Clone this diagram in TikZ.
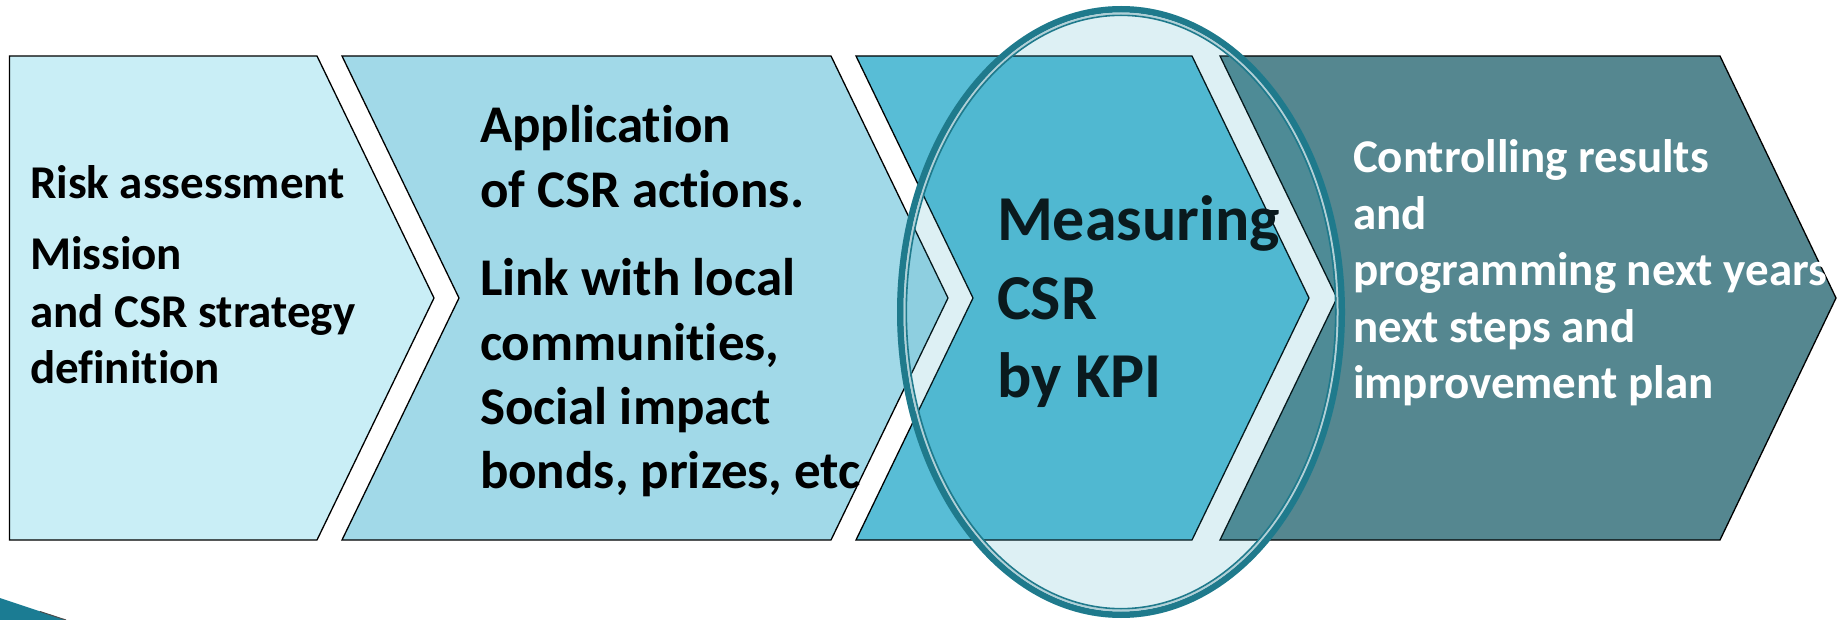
\documentclass[tikz,border=0pt]{standalone}
\usepackage{fontspec}
\setmainfont{Carlito}[Ligatures=NoCommon]
\definecolor{boxA}{HTML}{C9EEF6}
\definecolor{boxB}{HTML}{A1D9E8}
\definecolor{boxC}{HTML}{58BDD6}
\definecolor{boxD}{HTML}{558790}
\definecolor{ringc}{HTML}{1F7A8C}
\definecolor{veil}{HTML}{2BA1BA}
\definecolor{darktxt}{HTML}{0A1A1E}
\definecolor{tealdeco}{HTML}{1B7C93}
\tikzset{
  chev/.style={draw=black, line width=1.3pt, line join=miter},
  lbl/.style={anchor=base west, inner sep=0pt, outer sep=0pt},
  fa/.style={lbl, font=\fontsize{47}{56}\selectfont\bfseries},
  fb/.style={lbl, font=\fontsize{53}{64}\selectfont\bfseries},
  fc/.style={lbl, font=\fontsize{64}{77}\selectfont\bfseries, text=darktxt},
  fd/.style={lbl, font=\fontsize{47}{56}\selectfont\bfseries, text=white},
}
\begin{document}
\begin{tikzpicture}[x=1pt,y=-1pt]
\useasboundingbox (0,0) rectangle (1837,620);
% decorative corner shape
\fill[tealdeco] (0,598) -- (66,620) -- (0,620) -- cycle;
\draw[black!70, line width=1pt] (40,611.5) -- (66,620);
% box 1
\filldraw[chev, fill=boxA] (9.5,56) -- (317,56) -- (434,298) -- (317,540) -- (9.5,540) -- cycle;
\node[fa] (r1) at (30,199) {Risk assessment};
\node[fa] (r2) at (30,270) {Mission};
\node[fa] (r3) at (30,327) {and CSR strategy};
\node[fa] (r4) at (30,383) {definition};
% box 2
\filldraw[chev, fill=boxB] (342,56) -- (831,56) -- (948,298) -- (831,540) -- (342,540) -- (459,298) -- cycle;
\node[fb] (a1) at (480,143) {Application};
\node[fb] (a2) at (480,208) {of CSR actions.};
\node[fb] (a3) at (480,296) {Link with local};
\node[fb] (a4) at (480,360) {communities,};
\node[fb] (a5) at (480,424) {Social impact};
\node[fb] (a6) at (480,488) {bonds, prizes, etc};
% box 3
\filldraw[chev, fill=boxC] (856,56) -- (1192,56) -- (1309,298) -- (1192,540) -- (856,540) -- (973,298) -- cycle;
% box 4
\filldraw[chev, fill=boxD] (1220,56) -- (1720,56) -- (1836,298) -- (1720,540) -- (1220,540) -- (1337,298) -- cycle;
\node[fd] (c1) at (1353,173) {Controlling results};
\node[fd] (c2) at (1353,230) {and};
\node[fd] (c3) at (1353,286) {programming next years};
\node[fd] (c4) at (1353,342) {next steps and};
\node[fd] (c5) at (1353,398) {improvement plan};
% ellipse highlight
\fill[veil, opacity=0.16] (1121,312) ellipse [x radius=224, y radius=306];
\draw[ringc, line width=6.5pt] (1121,312) ellipse [x radius=220.75, y radius=302.75];
\draw[white!65!ringc, line width=2pt] (1121,312) ellipse [x radius=216.5, y radius=298.5];
\draw[ringc, line width=1.6pt] (1121,312) ellipse [x radius=214.7, y radius=296.7];
% box 3 text
\node[fc] (m1) at (997,241) {Measuring};
\node[fc] (m2) at (997,320) {CSR};
\node[fc] (m3) at (997,397) {by KPI};
\end{tikzpicture}
\end{document}
